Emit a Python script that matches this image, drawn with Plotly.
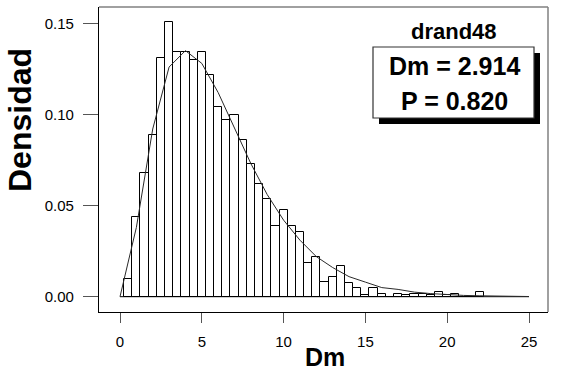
# Histogram of Dm with fitted density curve (drand48)
import plotly.graph_objects as go

# bar centres (bin width 0.5) and observed densities
bin_centers = [0.5, 1.0, 1.5, 2.0, 2.5, 3.0, 3.5, 4.0, 4.5, 5.0, 5.5, 6.0, 6.5, 7.0, 7.5,
               8.0, 8.5, 9.0, 9.5, 10.0, 10.5, 11.0, 11.5, 12.0, 12.5, 13.0, 13.5, 14.0,
               14.5, 15.0, 15.5, 16.0, 16.5, 17.0, 17.5, 18.0, 18.5, 19.0, 19.5, 20.0,
               20.5, 21.0, 21.5, 22.0]
bin_density = [0.0095, 0.0439, 0.0677, 0.0888, 0.1312, 0.1509, 0.1340, 0.1340, 0.1298,
               0.1340, 0.1218, 0.1040, 0.0970, 0.0997, 0.0860, 0.0728, 0.0620, 0.0536,
               0.0388, 0.0476, 0.0388, 0.0353, 0.0183, 0.0216, 0.0082, 0.0106, 0.0168,
               0.0073, 0.0046, 0.0010, 0.0046, 0.0015, 0.0, 0.0015, 0.0010, 0.0015,
               0.0015, 0.0008, 0.0026, 0.0010, 0.0015, 0.0, 0.0, 0.0026]

# theoretical density, read at integer points
curve_x = list(range(0, 26))
curve_y = [0.0, 0.038, 0.092, 0.126, 0.135, 0.128, 0.112, 0.092, 0.073, 0.056, 0.042,
           0.031, 0.022, 0.016, 0.011, 0.008, 0.005, 0.004, 0.0025, 0.0017, 0.0011,
           0.0007, 0.0005, 0.0003, 0.0002, 0.0001]

x_ticks = [0, 5, 10, 15, 20, 25]
y_ticks = [0.0, 0.05, 0.10, 0.15]
y_tick_labels = ['0.00', '0.05', '0.10', '0.15']

generator = 'drand48'
stat_lines = ['Dm = 2.914', 'P = 0.820']

FONT = 'Liberation Sans, Arial, Helvetica, sans-serif'
W, H = 563, 377
L, R, T, B = 99, 15, 7, 65
pw, ph = W - L - R, H - T - B


def px_x(p):
    return (p - L) / pw


def px_y(p):
    return (H - B - p) / ph


fig = go.Figure()

fig.add_trace(go.Bar(
    x=bin_centers, y=bin_density, width=0.5,
    marker=dict(color='white', line=dict(color='black', width=1)),
    showlegend=False,
))

# baseline under the bars
fig.add_trace(go.Scatter(
    x=[curve_x[0], curve_x[-1]], y=[0, 0], mode='lines',
    line=dict(color='black', width=1), showlegend=False,
))

fig.add_trace(go.Scatter(
    x=curve_x, y=curve_y, mode='lines',
    line=dict(color='#2a2a2a', width=1), showlegend=False,
))

# top / right frame in grey
fig.add_shape(type='line', xref='paper', yref='paper', x0=0, x1=1, y0=1, y1=1,
              line=dict(color='#808080', width=1.5))
fig.add_shape(type='line', xref='paper', yref='paper', x0=1, x1=1, y0=0, y1=1,
              line=dict(color='#808080', width=1.5))

# stats box with drop shadow
bx0, by0, bx1, by1 = 373, 47, 534, 118
fig.add_shape(type='rect', xref='paper', yref='paper',
              x0=px_x(bx0 + 6), x1=px_x(bx1 + 6), y0=px_y(by1 + 6), y1=px_y(by0 + 6),
              fillcolor='black', line_width=0)
fig.add_shape(type='rect', xref='paper', yref='paper',
              x0=px_x(bx0), x1=px_x(bx1), y0=px_y(by1), y1=px_y(by0),
              fillcolor='white', line=dict(color='#333333', width=1.2))

fig.add_annotation(text=f'<b>{generator}</b>', xref='paper', yref='paper',
                   x=px_x(454), y=px_y(31), xanchor='center', yanchor='middle',
                   showarrow=False, font=dict(size=22, color='black', family=FONT))
for txt, ycen in zip(stat_lines, [66, 101]):
    fig.add_annotation(text=f'<b>{txt}</b>', xref='paper', yref='paper',
                       x=px_x(454), y=px_y(ycen), xanchor='center', yanchor='middle',
                       showarrow=False, font=dict(size=25, color='black', family=FONT))

# axis titles
fig.add_annotation(text='<b>Dm</b>', xref='paper', yref='paper',
                   x=px_x(325), y=px_y(357), xanchor='center', yanchor='middle',
                   showarrow=False, font=dict(size=25, color='black', family=FONT))
fig.add_annotation(text='<b>Densidad</b>', xref='paper', yref='paper', textangle=-90,
                   x=px_x(20), y=px_y(120), xanchor='center', yanchor='middle',
                   showarrow=False, font=dict(size=32, color='black', family=FONT))

fig.update_layout(
    xaxis=dict(
        range=[-21 / 16.36, 25 + 19 / 16.36],
        tickvals=x_ticks, ticks='outside', ticklen=10, tickwidth=1.2, tickcolor='#555555',
        showline=True, linecolor='black', linewidth=1.2, mirror=False,
        showgrid=False, zeroline=False, ticklabelstandoff=6,
        tickfont=dict(size=15, color='black', family=FONT),
    ),
    yaxis=dict(
        range=[-15.3 / 1822.7, 0.15 + 16.3 / 1822.7],
        tickvals=y_ticks, ticktext=y_tick_labels,
        ticks='outside', ticklen=15, tickwidth=1.2, tickcolor='#555555',
        showline=True, linecolor='black', linewidth=1.2, mirror=False,
        showgrid=False, zeroline=False, ticklabelstandoff=6,
        tickfont=dict(size=15, color='black', family=FONT),
    ),
    font=dict(family=FONT, color='black'),
    plot_bgcolor='white',
    paper_bgcolor='white',
    bargap=0,
    width=W,
    height=H,
    margin=dict(l=L, r=R, t=T, b=B, pad=0),
)

# drop the default page margin so the figure sits at the window's corner
fig.write_html("out.html", config={'displayModeBar': False},
               post_script="document.body.style.margin='0';")
